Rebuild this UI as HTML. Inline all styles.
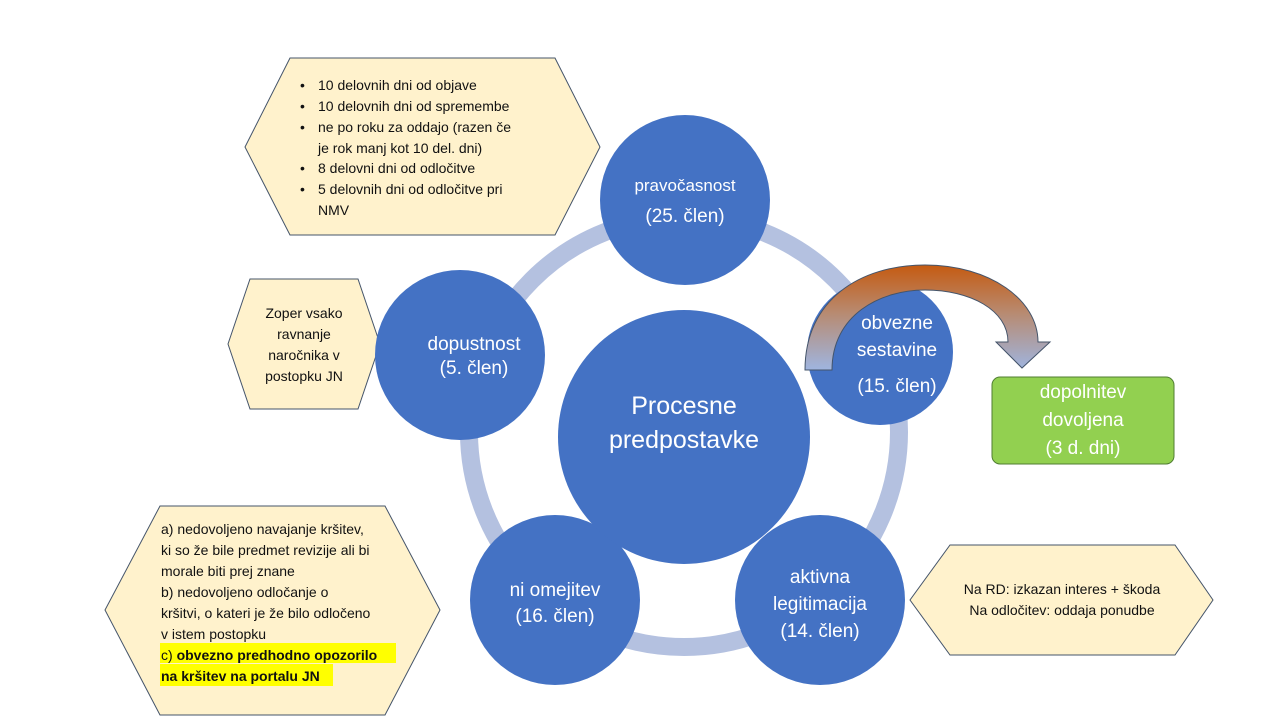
<!DOCTYPE html>
<html><head><meta charset="utf-8"><style>
html,body{margin:0;padding:0;background:#fff;}
svg{display:block;font-family:"Liberation Sans",sans-serif;}
.s{font-size:14px;fill:#111;}
.w{fill:#fff;text-anchor:middle;}
</style></head><body>
<svg width="1280" height="720" viewBox="0 0 1280 720" xmlns="http://www.w3.org/2000/svg">
<defs>
<linearGradient id="g" x1="0" y1="0" x2="0" y2="1">
<stop offset="0" stop-color="#c55a11"/><stop offset="0.45" stop-color="#b88a70"/><stop offset="1" stop-color="#9fb5e0"/>
</linearGradient>
</defs>
<circle cx="684" cy="432" r="215" fill="none" stroke="#b4c1e0" stroke-width="18"/>
<!-- hexagons -->
<polygon points="290,58 555,58 600,147 555,235 290,235 245,147" fill="#fff2cc" stroke="#44546a" stroke-width="1"/>
<polygon points="250,279 358,279 380,344 358,409 250,409 228,344" fill="#fff2cc" stroke="#44546a" stroke-width="1"/>
<polygon points="160,506 385,506 440,610 385,715 160,715 105,610" fill="#fff2cc" stroke="#44546a" stroke-width="1"/>
<polygon points="950,545 1175,545 1213,600 1175,655 950,655 910,600" fill="#fff2cc" stroke="#44546a" stroke-width="1"/>
<!-- circles -->
<circle cx="685" cy="200" r="85" fill="#4472c4"/>
<circle cx="460" cy="355" r="85" fill="#4472c4"/>
<circle cx="880" cy="352" r="73" fill="#4472c4"/>
<circle cx="820" cy="600" r="85" fill="#4472c4"/>
<circle cx="555" cy="600" r="85" fill="#4472c4"/>
<ellipse cx="684" cy="437" rx="126" ry="127" fill="#4472c4"/>
<!-- arrow -->
<path d="M805,370 C805,300 860,265 925,265 C990,265 1038,300 1038,342 L1050,342 L1022,368 L996,342 L1008,342 C1008,310 970,290 925,290 C880,290 832,315 832,370 Z" fill="url(#g)" stroke="#44546a" stroke-width="1"/>
<!-- circle texts -->
<text class="w" x="685" y="191" font-size="17">pravočasnost</text>
<text class="w" x="685" y="222" font-size="19">(25. člen)</text>
<text class="w" x="474" y="350" font-size="19">dopustnost</text>
<text class="w" x="474" y="374" font-size="19">(5. člen)</text>
<text class="w" x="897" y="329" font-size="19">obvezne</text>
<text class="w" x="897" y="356" font-size="19">sestavine</text>
<text class="w" x="897" y="392" font-size="19">(15. člen)</text>
<text class="w" x="820" y="583" font-size="19">aktivna</text>
<text class="w" x="820" y="610" font-size="19">legitimacija</text>
<text class="w" x="820" y="637" font-size="19">(14. člen)</text>
<text class="w" x="555" y="596" font-size="19">ni omejitev</text>
<text class="w" x="555" y="622" font-size="19">(16. člen)</text>
<text class="w" x="684" y="414" font-size="25">Procesne</text>
<text class="w" x="684" y="448" font-size="25">predpostavke</text>
<!-- green box -->
<rect x="992" y="377" width="182" height="87" rx="8" fill="#92d050" stroke="#507e32" stroke-width="1"/>
<text class="w" x="1083" y="398" font-size="19">dopolnitev</text>
<text class="w" x="1083" y="426" font-size="19">dovoljena</text>
<text class="w" x="1083" y="454" font-size="19">(3 d. dni)</text>
<!-- top hex text -->
<g class="s">
<text x="300" y="90">•</text><text x="318" y="90">10 delovnih dni od objave</text>
<text x="300" y="111">•</text><text x="318" y="111">10 delovnih dni od spremembe</text>
<text x="300" y="132">•</text><text x="318" y="132">ne po roku za oddajo (razen če</text>
<text x="318" y="153">je rok manj kot 10 del. dni)</text>
<text x="300" y="173">•</text><text x="318" y="173">8 delovni dni od odločitve</text>
<text x="300" y="194">•</text><text x="318" y="194">5 delovnih dni od odločitve pri</text>
<text x="318" y="215">NMV</text>
</g>
<g class="s" text-anchor="middle">
<text x="304" y="318">Zoper vsako</text>
<text x="304" y="339">ravnanje</text>
<text x="304" y="360">naročnika v</text>
<text x="304" y="381">postopku JN</text>
</g>
<rect x="160" y="643" width="236" height="20" fill="#ffff00"/>
<rect x="160" y="664" width="173" height="22" fill="#ffff00"/>
<g class="s">
<text x="161" y="534">a) nedovoljeno navajanje kršitev,</text>
<text x="161" y="555">ki so že bile predmet revizije ali bi</text>
<text x="161" y="576">morale biti prej znane</text>
<text x="161" y="597">b) nedovoljeno odločanje o</text>
<text x="161" y="618">kršitvi, o kateri je že bilo odločeno</text>
<text x="161" y="639">v istem postopku</text>
<text x="161" y="660">c) <tspan font-weight="bold">obvezno predhodno opozorilo</tspan></text>
<text x="161" y="681" font-weight="bold">na kršitev na portalu JN</text>
</g>
<g class="s" text-anchor="middle">
<text x="1062" y="594">Na RD: izkazan interes + škoda</text>
<text x="1062" y="615">Na odločitev: oddaja ponudbe</text>
</g>
</svg>
</body></html>
